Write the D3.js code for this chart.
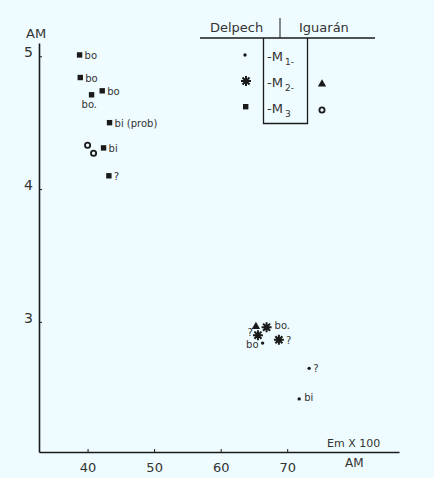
<!DOCTYPE html>
<html>
<head>
<meta charset="utf-8">
<script src="https://cdn.jsdelivr.net/npm/d3@7"></script>
<style>
  body { margin: 0; background: #effcff; }
  svg { display: block; }
  text { font-family: "DejaVu Sans", sans-serif; fill: #333; }
</style>
</head>
<body>
<svg id="chart"></svg>
<script>
let width = 434, height = 478;

// Data (x = Em x 100, y = AM)
var delpechM1 = [{ x: 66.3, y: 2.84 }, { x: 73.3, y: 2.65 }, { x: 71.8, y: 2.42 }];
var delpechM1Labels = ["bo", "?", "bi"];

var delpechM2 = [{ x: 65.6, y: 2.90 }, { x: 66.9, y: 2.96 }, { x: 68.75, y: 2.865 }];
var delpechM2Labels = ["?", "bo.", "?"];

var delpechM3 = [
    { x: 38.8, y: 5.01 }, { x: 38.9, y: 4.84 }, { x: 40.6, y: 4.71 }, { x: 42.2, y: 4.74 },
    { x: 43.3, y: 4.50 }, { x: 42.4, y: 4.31 }, { x: 43.2, y: 4.10 }
];
var delpechM3Labels = ["bo", "bo", "bo.", "bo", "bi (prob)", "bi", "?"];

var iguaranM2 = [{ x: 65.3, y: 2.965 }];
var iguaranM3 = [{ x: 40.0, y: 4.33 }, { x: 40.9, y: 4.27 }];

var xTicks = [40, 50, 60, 70];
var yTicks = [3, 4, 5];

var svg = d3.select("#chart").attr("width", width).attr("height", height);

// scales
var xScale = d3.scaleLinear().domain([32.7, 86.8]).range([39, 399]);
var yScale = d3.scaleLinear().domain([2.02, 5.1]).range([452, 43]);

var ink = "#1a1a1a";

// x axis
var xAxis = svg.append("g")
    .attr("transform", "translate(0," + yScale.range()[0] + ")")
    .call(d3.axisBottom(xScale).tickValues(xTicks).tickFormat(d3.format("d"))
        .tickSize(-3).tickSizeOuter(0).tickPadding(11));
xAxis.select(".domain").attr("stroke", ink).attr("stroke-width", 1.6);
xAxis.selectAll(".tick line").attr("stroke", ink);
xAxis.selectAll("text").style("font-size", "13px").attr("fill", "#333");

// y axis
var yAxis = svg.append("g")
    .attr("transform", "translate(" + xScale.range()[0] + ",0)")
    .call(d3.axisLeft(yScale).tickValues(yTicks).tickFormat(d3.format("d"))
        .tickSize(-3).tickSizeOuter(0).tickPadding(6));
yAxis.select(".domain").attr("stroke", ink).attr("stroke-width", 1.6);
yAxis.selectAll(".tick line").attr("stroke", ink);
yAxis.selectAll("text").style("font-size", "14px").attr("fill", "#333").attr("dy", "0.05em");

// axis titles
svg.append("text").attr("x", 26).attr("y", 38).style("font-size", "13px").text("AM");
svg.append("text").attr("x", 327).attr("y", 447).style("font-size", "11px").text("Em X 100");
svg.append("text").attr("x", 345).attr("y", 467).style("font-size", "12px").text("AM");

// symbols
var star = d3.symbol().type({
    draw: function (ctx, size) {
        var r = Math.sqrt(size) / 2;
        for (var i = 0; i < 8; i++) {
            var a = i * Math.PI / 4;
            ctx.moveTo(0, 0);
            ctx.lineTo(r * Math.cos(a), r * Math.sin(a));
        }
    }
}).size(100);

function drawPoints(data, shape) {
    var g = svg.append("g");
    var sel = g.selectAll("g").data(data).enter().append("g")
        .attr("transform", function (d) { return "translate(" + xScale(d.x) + "," + yScale(d.y) + ")"; });
    if (shape == "dot") sel.append("circle").attr("r", 1.7).attr("fill", ink);
    if (shape == "square") sel.append("rect").attr("x", -2.7).attr("y", -2.7).attr("width", 5.4).attr("height", 5.4).attr("fill", ink);
    if (shape == "ring") sel.append("circle").attr("r", 2.6).attr("fill", "none").attr("stroke", ink).attr("stroke-width", 1.8);
    if (shape == "triangle") sel.append("path").attr("d", d3.symbol().type(d3.symbolTriangle).size(30)).attr("fill", ink);
    if (shape == "star") {
        sel.append("path").attr("d", star).attr("stroke", ink).attr("stroke-width", 2);
        sel.append("circle").attr("r", 2.4).attr("fill", ink);
    }
}

// offsets: [dx, dy, anchor]
function drawLabels(data, labels, offsets) {
    svg.append("g").selectAll("text").data(data).enter().append("text")
        .attr("x", function (d, i) { return xScale(d.x) + offsets[i][0]; })
        .attr("y", function (d, i) { return yScale(d.y) + offsets[i][1]; })
        .attr("text-anchor", function (d, i) { return offsets[i][2] || "start"; })
        .style("font-size", "10px")
        .attr("fill", "#444")
        .text(function (d, i) { return labels[i]; });
}

drawPoints(delpechM3, "square");
drawPoints(iguaranM3, "ring");
drawPoints(delpechM1, "dot");
drawPoints(delpechM2, "star");
drawPoints(iguaranM2, "triangle");

drawLabels(delpechM3, delpechM3Labels, [[5, 4], [5, 4], [-10, 13], [5, 4], [5, 4], [5, 4], [5, 4]]);
drawLabels(delpechM1, delpechM1Labels, [[-4, 5, "end"], [4, 4], [5, 2]]);
drawLabels(delpechM2, delpechM2Labels, [[-5, 1, "end"], [8, 2], [7, 4]]);

// legend
var lg = svg.append("g");
lg.append("text").attr("x", 210).attr("y", 32).style("font-size", "13px").text("Delpech");
lg.append("text").attr("x", 299).attr("y", 32).style("font-size", "13px").text("Iguarán");
lg.append("line").attr("x1", 280).attr("x2", 280).attr("y1", 18).attr("y2", 38).attr("stroke", ink);
lg.append("line").attr("x1", 200).attr("x2", 375).attr("y1", 38).attr("y2", 38).attr("stroke", ink).attr("stroke-width", 1.3);
lg.append("path").attr("d", "M263.5,38V123.5H307.5V38").attr("fill", "none").attr("stroke", ink).attr("stroke-width", 1.3);

var legendRows = ["1", "2", "3"];
legendRows.forEach(function (s, i) {
    var t = lg.append("text").attr("x", 267).attr("y", 61 + i * 26).style("font-size", "13px");
    t.append("tspan").text("-M");
    t.append("tspan").attr("dx", 2).attr("dy", 4).style("font-size", "9px").text(s + (i < 2 ? "-" : ""));
});
lg.append("circle").attr("cx", 245).attr("cy", 55).attr("r", 1.7).attr("fill", ink);
lg.append("path").attr("transform", "translate(246,81)").attr("d", star).attr("stroke", ink).attr("stroke-width", 2);
lg.append("circle").attr("cx", 246).attr("cy", 81).attr("r", 2.4).attr("fill", ink);
lg.append("rect").attr("x", 243).attr("y", 104).attr("width", 5.4).attr("height", 5.4).attr("fill", ink);
lg.append("path").attr("transform", "translate(322,84)").attr("d", d3.symbol().type(d3.symbolTriangle).size(30)).attr("fill", ink);
lg.append("circle").attr("cx", 322).attr("cy", 110).attr("r", 2.6).attr("fill", "none").attr("stroke", ink).attr("stroke-width", 1.8);
</script>
</body>
</html>
